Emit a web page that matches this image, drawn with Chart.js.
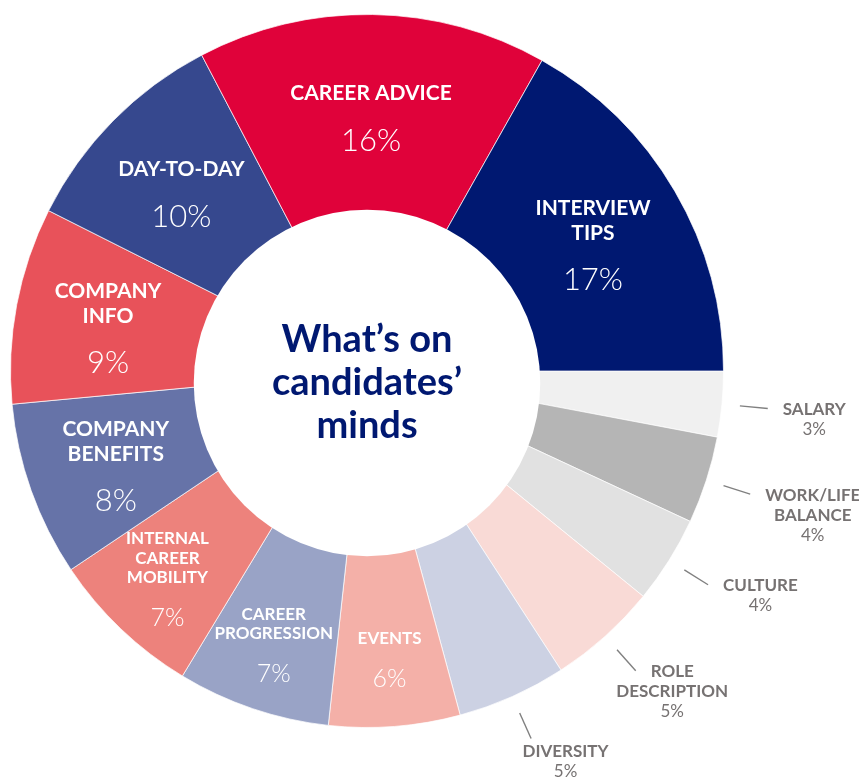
<!DOCTYPE html>
<html>
<head>
<meta charset="utf-8">
<title>What’s on candidates’ minds</title>
<script src="https://cdn.jsdelivr.net/npm/chart.js@4.4.0/dist/chart.umd.min.js"></script>
<style>
  html, body { margin: 0; padding: 0; background: #fff; }
  canvas { display: block; }
</style>
</head>
<body>
<canvas id="grafico" width="859" height="778"></canvas>
<script>
// slices run clockwise from 3 o'clock
let topics = [
  ['SALARY'], ['WORK/LIFE', 'BALANCE'], ['CULTURE'], ['ROLE', 'DESCRIPTION'], ['DIVERSITY'],
  ['EVENTS'], ['CAREER', 'PROGRESSION'], ['INTERNAL', 'CAREER', 'MOBILITY'], ['COMPANY', 'BENEFITS'],
  ['COMPANY', 'INFO'], ['DAY-TO-DAY'], ['CAREER ADVICE'], ['INTERVIEW', 'TIPS']
];
let shares = [3, 4, 4, 5, 5, 6, 7, 7, 8, 9, 10, 16, 17];
let colours = [
  '#f0f0f0', '#b5b5b5', '#e1e1e1', '#f9dad6', '#ccd1e3',
  '#f4b0a8', '#99a3c6', '#ed827c', '#6673a8',
  '#e8525a', '#36488e', '#e0023a', '#001871'
];
let title = ['What’s on', 'candidates’', 'minds'];

let labels = {
  id: 'labels',
  afterDatasetsDraw(chart) {
    let ctx = chart.ctx;
    let arcs = chart.getDatasetMeta(0).data;
    let cx = arcs[0].x, cy = arcs[0].y, outer = arcs[0].outerRadius;
    // the hole sits a little below the ring's centre
    let holeY = cy + 12, holeR = outer * 0.486;

    ctx.save();
    ctx.fillStyle = '#fff';
    ctx.beginPath();
    ctx.arc(cx, holeY, holeR, 0, Math.PI * 2);
    ctx.fill();

    ctx.textAlign = 'center';
    ctx.textBaseline = 'middle';
    ctx.fillStyle = '#001871';
    ctx.font = 'bold 38px Lato';
    title.forEach((line, i) => ctx.fillText(line, cx, holeY + (i - 1) * 43));

    arcs.forEach((arc, i) => {
      let mid = (arc.startAngle + arc.endAngle) / 2;
      let cos = Math.cos(mid), sin = Math.sin(mid);
      let lines = topics[i];
      let pct = shares[i] + '%';

      if (shares[i] > 5) {
        let small = shares[i] <= 7;
        let inner = 12 * sin + Math.sqrt(holeR * holeR - 144 * cos * cos);
        let r = (outer + inner) / 2 + (small ? 20 : 0);
        let lh = small ? 19.5 : 25, gap = small ? 40 : 47;
        let x = cx + r * cos, y = cy + r * sin + (small ? -2 : 5);
        let top = y - ((lines.length - 1) * lh + gap) / 2;
        ctx.fillStyle = '#fff';
        ctx.font = `bold ${small ? 17 : 21}px Lato`;
        lines.forEach((t, k) => ctx.fillText(t, x, top + k * lh));
        ctx.font = `300 ${small ? 25 : 31}px Lato`;
        ctx.fillText(pct, x, top + (lines.length - 1) * lh + gap);
      } else {
        // leader line and grey label outside the ring
        let x1 = cx + (outer + 18) * cos, y1 = cy + (outer + 18) * sin;
        let x2 = cx + (outer + 46) * cos, y2 = cy + (outer + 46) * sin;
        ctx.strokeStyle = '#808080';
        ctx.lineWidth = 1.4;
        ctx.beginPath();
        ctx.moveTo(x1, y1);
        ctx.lineTo(x2, y2);
        ctx.stroke();

        ctx.font = 'bold 17px Lato';
        let w = ctx.measureText(lines[0]).width;
        let tx, ty;
        if (sin > 0.87) { tx = x2 + w * 0.4; ty = y2 + 13; }
        else { tx = x2 + 15 + w / 2; ty = y2 + 1; }
        ctx.fillStyle = '#767272';
        lines.forEach((t, k) => ctx.fillText(t, tx, ty + k * 20));
        ctx.font = '17px Lato';
        ctx.fillText(pct, tx, ty + lines.length * 20);
      }
    });
    ctx.restore();
  }
};

let ctx = document.getElementById('grafico').getContext('2d');

let chart = new Chart(ctx, {
  type: 'doughnut',
  data: {
    labels: topics,
    datasets: [{
      data: shares,
      backgroundColor: colours,
      borderColor: 'rgba(255,255,255,0.7)',
      borderWidth: 1,
      hoverOffset: 0
    }]
  },
  options: {
    responsive: false,
    animation: false,
    devicePixelRatio: 1,
    rotation: 90,
    cutout: '44%',
    layout: { padding: { left: 10, top: 14, right: 135, bottom: 50 } },
    plugins: {
      legend: { display: false },
      tooltip: { enabled: false }
    }
  },
  plugins: [labels]
});
</script>
</body>
</html>
